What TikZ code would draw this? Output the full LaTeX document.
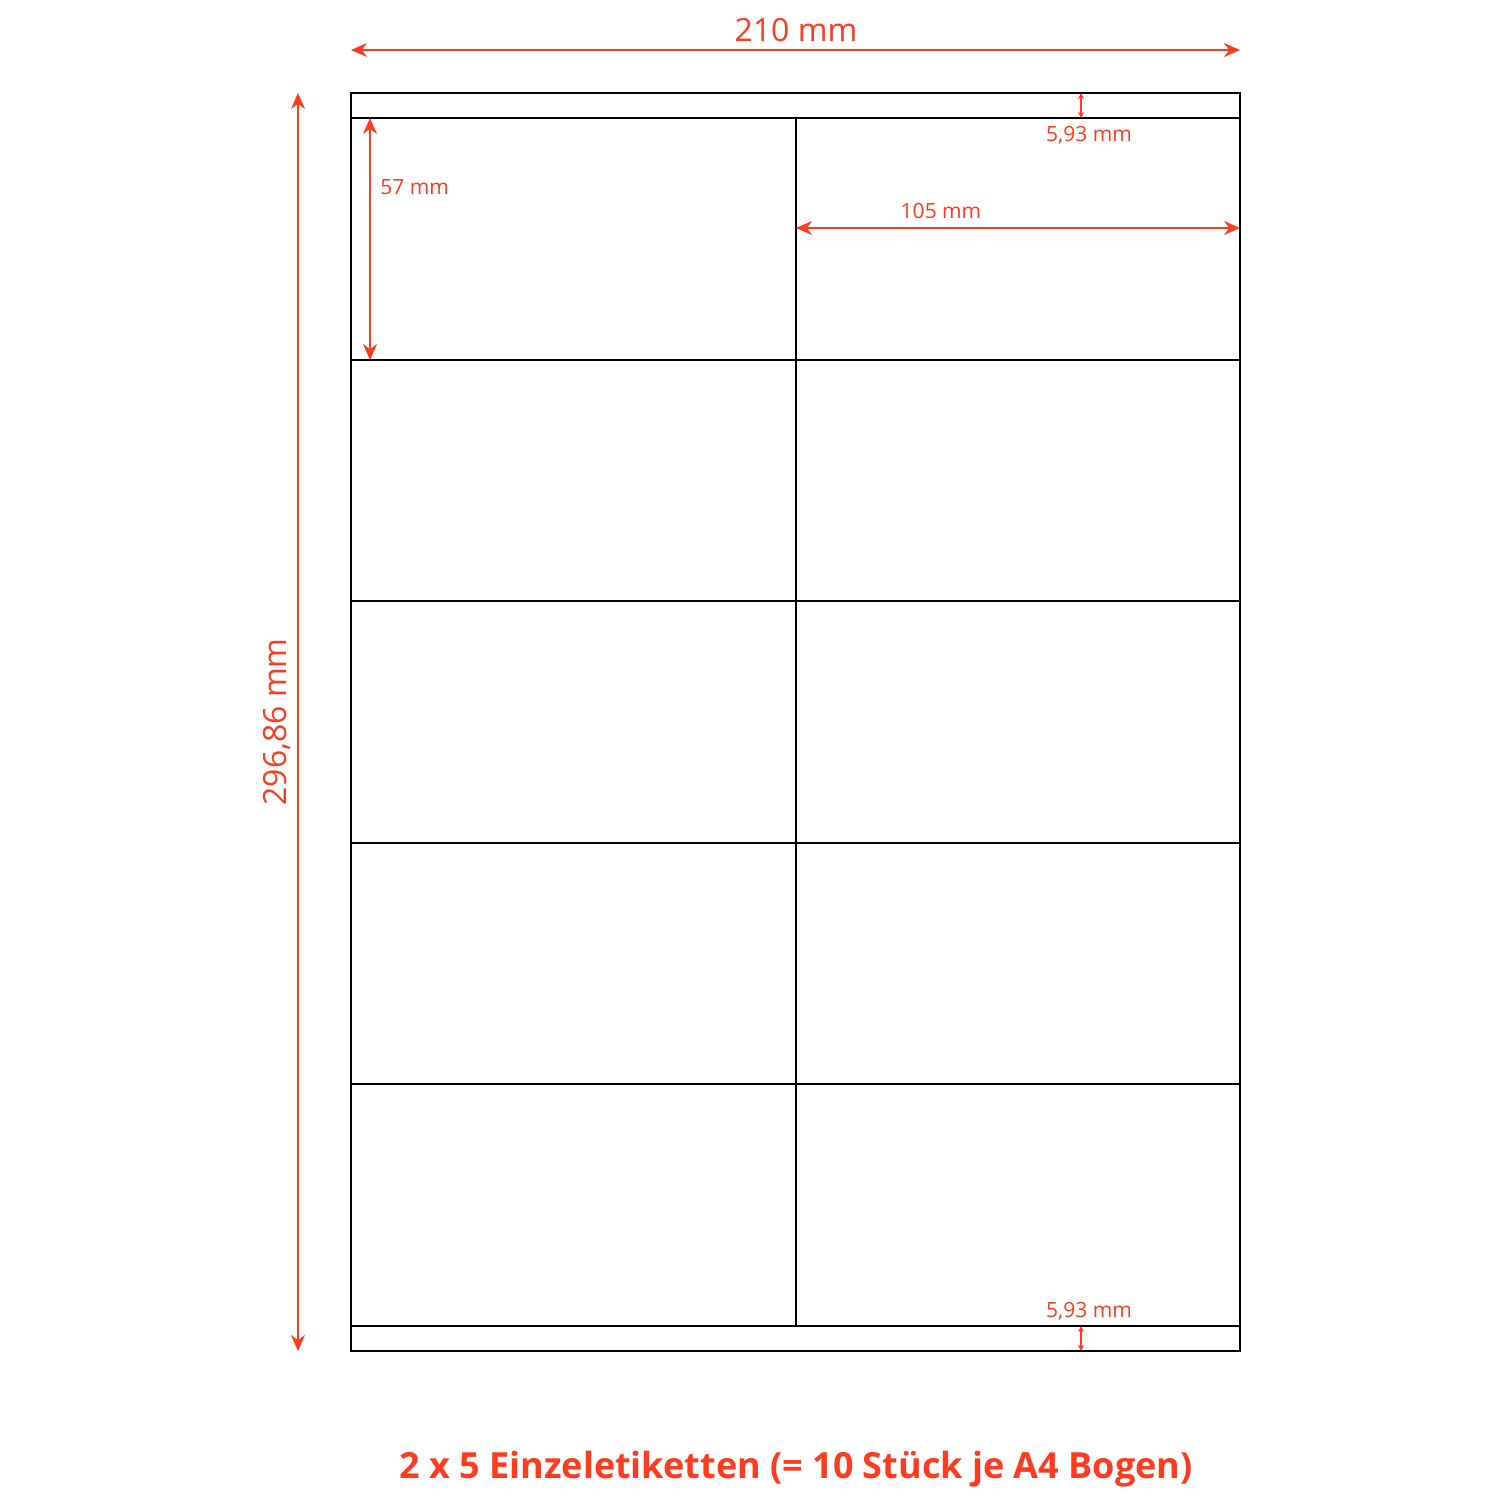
\documentclass[tikz,border=0pt]{standalone}
\usepackage{fontspec}
\setmainfont{Open Sans}
\usetikzlibrary{arrows.meta}
\definecolor{dimred}{HTML}{FF3B1F}
\begin{document}
\begin{tikzpicture}[x=0.5pt,y=-0.5pt,
  frame/.style={draw=black,line width=1.3pt},
  dimline/.style={draw=dimred,line width=0.8pt,{Stealth[length=8pt,width=7pt]}-{Stealth[length=8pt,width=7pt]}},
  smalldim/.style={draw=dimred,line width=0.6pt,{Stealth[length=3pt,width=3pt]}-{Stealth[length=3pt,width=3pt]}},
  biglabel/.style={text=dimred,font=\fontsize{16}{18}\selectfont,inner sep=0pt},
  smalllabel/.style={text=dimred,font=\fontsize{10.5}{12}\selectfont,inner sep=0pt},
  titlelabel/.style={text=dimred,font=\bfseries\fontsize{18}{20}\selectfont,inner sep=0pt}]
\useasboundingbox[fill=white] (0,0) rectangle (1500,1500);
% sheet corners and grid coordinates
\coordinate (tl) at (351,93);
\coordinate (br) at (1240,1351);
\draw[frame] (tl) rectangle (br);
\foreach \yy in {118,360,601,843,1084,1326}
  \draw[frame] (351,\yy) -- (1240,\yy);
\draw[frame] (796,118) -- (796,1326);
% dimension anchors
\coordinate (wl) at (351,50);
\coordinate (wr) at (1240,50);
\coordinate (ht) at (298,93);
\coordinate (hb) at (298,1351);
\coordinate (lt) at (370,118);
\coordinate (lb) at (370,360);
\coordinate (bl) at (796,228);
\coordinate (bwr) at (1240,228);
\coordinate (mt1) at (1081,93);
\coordinate (mb1) at (1081,118);
\coordinate (mt2) at (1081,1326);
\coordinate (mb2) at (1081,1351);
\draw[dimline] (wl) -- (wr);
\draw[dimline] (ht) -- (hb);
\draw[dimline] (lt) -- (lb);
\draw[dimline] (bl) -- (bwr);
\draw[smalldim] (mt1) -- (mb1);
\draw[smalldim] (mt2) -- (mb2);
% labels
\node[biglabel] (w) at (796,30) {210 mm};
\node[biglabel,rotate=90] (h) at (277,722) {296,86 mm};
\node[smalllabel,anchor=west] (l57) at (380,187) {57 mm};
\node[smalllabel] (l105) at (941,211) {105 mm};
\node[smalllabel] (m1) at (1089,135) {5,93 mm};
\node[smalllabel] (m2) at (1089,1311) {5,93 mm};
\node[titlelabel] (title) at (796,1469) {2 x 5 Einzeletiketten (= 10 Stück je A4 Bogen)};
\end{tikzpicture}
\end{document}
